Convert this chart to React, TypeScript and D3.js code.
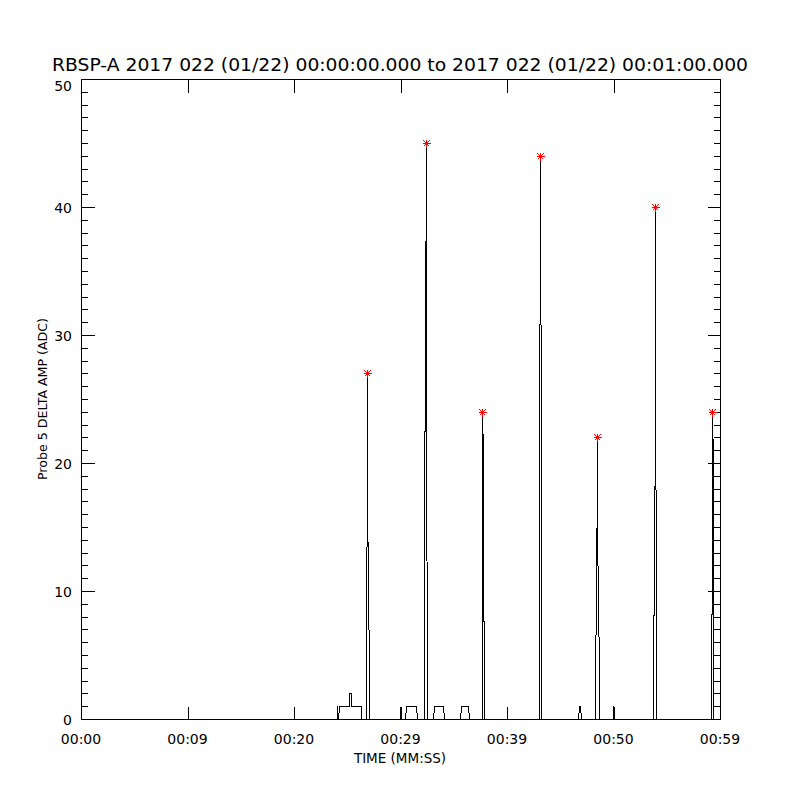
import React from "react";
import * as d3 from "d3";

// ---- data ----
const timeSec: number[] = [
  0, 24.0, 24.04, 24.1, 24.21, 25.13, 25.16, 25.33, 25.36, 26.27, 26.31,
  26.8, 26.8, 26.86, 26.88, 26.9, 26.96, 27.02, 27.02,
  29.93, 29.95, 29.97,
  30.46, 30.55, 31.46, 31.55,
  32.24, 32.24, 32.33, 32.37, 32.4, 32.44, 32.52, 32.52,
  33.08, 33.17, 34.03, 34.12,
  35.59, 35.68, 36.34, 36.43,
  37.63, 37.63, 37.67, 37.68, 37.7, 37.77, 37.84,
  39.98, 40.0, 40.02,
  43.03, 43.03, 43.08, 43.1, 43.12, 43.16, 43.16,
  46.7, 46.78, 46.9, 46.98,
  48.27, 48.33, 48.43, 48.45, 48.47, 48.58, 48.67, 48.67,
  49.96, 49.98, 50.0,
  53.74, 53.74, 53.8, 53.88, 53.9, 53.92, 53.96, 53.99,
  59.12, 59.12, 59.22, 59.26, 59.28, 59.3, 59.33, 59.37,
];
const ampADC: number[] = [
  0, 0, 1, 0, 1, 1, 2, 2, 1, 1, 0,
  0, 6, 20.4, 27, 20.4, 7.4, 6.6, 0,
  0, 1, 0,
  0, 1, 1, 0,
  0, 15.7, 29, 45, 29, 15, 9.9, 0,
  0, 1, 1, 0,
  0, 1, 1, 0,
  0, 15.5, 20.6, 24, 20.6, 15.5, 0,
  0, 1, 0,
  0, 29.7, 32, 44, 32, 29.6, 0,
  0, 1, 1, 0,
  0, 12.8, 17, 22, 13, 11, 2, 0,
  0, 1, 0,
  0, 2.4, 13.6, 22.5, 40, 22.5, 13.6, 0,
  0, 0.5, 15.6, 20, 24, 20, 15.6, 0,
];
const peakTimes: number[] = [26.88, 32.37, 37.68, 43.1, 48.45, 53.9, 59.28];
const peakValues: number[] = [27, 45, 24, 44, 22, 40, 24];

const xTickSec: number[] = [0, 10, 20, 30, 40, 50, 60];
const xTickLabels: string[] = ["00:00", "00:09", "00:20", "00:29", "00:39", "00:50", "00:59"];
const yMajorTicks: number[] = [0, 10, 20, 30, 40, 50];
const yMinorTicks: number[] = d3.range(0, 51, 1);

const titleText = "RBSP-A 2017 022 (01/22) 00:00:00.000 to 2017 022 (01/22) 00:01:00.000";
const xTitle = "TIME (MM:SS)";
const yTitle = "Probe 5 DELTA AMP (ADC)";

export default function App() {
  const L = 81, R = 720, T = 79, B = 719;
  const x = d3.scaleLinear().domain([0, 60]).range([L, R]);
  const y = d3.scaleLinear().domain([0, 50]).range([B, T]);
  const font = "'DejaVu Sans', sans-serif";
  const pts: [number, number][] = timeSec.map((t, i) => [t, ampADC[i]]);
  const line = d3
    .line<[number, number]>()
    .x((d) => Math.round(x(d[0])) + 0.5)
    .y((d) => Math.round(y(d[1])) + 0.5);
  const majLen = 13;
  const minLen = 6.5;
  const h = (v: number) => Math.round(v) + 0.5;

  return (
    <svg
      width={800}
      height={800}
      style={{ position: "absolute", left: 0, top: 0, background: "#fff" }}
    >
      <rect x={0} y={0} width={800} height={800} fill="#fff" />
      <text
        x={400}
        y={71}
        textAnchor="middle"
        fontFamily={font}
        fontSize={18}
        textLength={696}
        lengthAdjust="spacingAndGlyphs"
      >
        {titleText}
      </text>
      {/* data */}
      <path
        d={line(pts) || ""}
        fill="none"
        stroke="#000"
        strokeWidth={1}
        shapeRendering="crispEdges"
      />
      {/* frame */}
      <g stroke="#000" strokeWidth={1} shapeRendering="crispEdges" fill="none">
        <rect x={h(L)} y={h(T)} width={Math.round(R) - Math.round(L)} height={Math.round(B) - Math.round(T)} />
        {xTickSec.map((s) => (
          <g key={"xt" + s}>
            <line x1={h(x(s))} x2={h(x(s))} y1={h(B)} y2={h(B) - majLen} />
            <line x1={h(x(s))} x2={h(x(s))} y1={h(T)} y2={h(T) + majLen} />
          </g>
        ))}
        {yMinorTicks.map((v) => {
          const len = v % 10 === 0 ? majLen : minLen;
          return (
            <g key={"yt" + v}>
              <line x1={h(L)} x2={h(L) + len} y1={h(y(v))} y2={h(y(v))} />
              <line x1={h(R)} x2={h(R) - len} y1={h(y(v))} y2={h(y(v))} />
            </g>
          );
        })}
      </g>
      {/* asterisks */}
      <g stroke="#ff0000" strokeWidth={1} shapeRendering="crispEdges">
        {peakTimes.map((t, i) => {
          const cx = Math.round(x(t)) + 0.5;
          const cy = Math.round(y(peakValues[i])) + 0.5;
          return (
            <g key={"pk" + i}>
              <line x1={cx - 4} x2={cx + 4} y1={cy} y2={cy} />
              <line x1={cx} x2={cx} y1={cy - 4} y2={cy + 4} />
              <line x1={cx - 3} x2={cx + 3} y1={cy - 3} y2={cy + 3} />
              <line x1={cx - 3} x2={cx + 3} y1={cy + 3} y2={cy - 3} />
            </g>
          );
        })}
      </g>
      {/* tick labels */}
      <g fontFamily={font} fontSize={14} fill="#000">
        {xTickSec.map((s, i) => (
          <text key={"xl" + s} x={x(s)} y={744} textAnchor="middle">
            {xTickLabels[i]}
          </text>
        ))}
        {yMajorTicks.map((v) => (
          <text key={"yl" + v} x={72} y={Math.max(y(v) + 6, T + 12)} textAnchor="end">
            {v}
          </text>
        ))}
      </g>
      <text x={400} y={763} textAnchor="middle" fontFamily={font} fontSize={13.5}>
        {xTitle}
      </text>
      <text
        transform={`translate(47,${(T + B) / 2}) rotate(-90)`}
        textAnchor="middle"
        fontFamily={font}
        fontSize={13}
        textLength={162}
        lengthAdjust="spacingAndGlyphs"
      >
        {yTitle}
      </text>
    </svg>
  );
}
